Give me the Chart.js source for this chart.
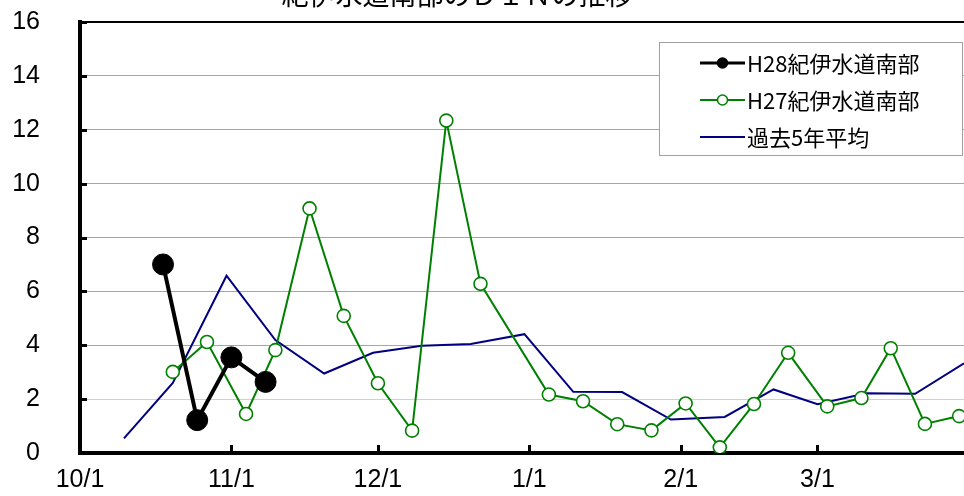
<!DOCTYPE html>
<html>
<head>
<meta charset="utf-8">
<script src="https://cdn.jsdelivr.net/npm/chart.js@4.4.1/dist/chart.umd.min.js"></script>
<style>
  html, body { margin: 0; padding: 0; background: #fff; overflow: hidden; }
  #wrap { width: 964px; height: 496px; }
</style>
</head>
<body>
<div id="wrap"><canvas id="c" width="964" height="496"></canvas></div>
<script>
// 軸の目盛り（各月1日）
var monthTickLabels = ['10/1', '11/1', '12/1', '1/1', '2/1', '3/1'];
var yTickLabels = ['0', '2', '4', '6', '8', '10', '12', '14', '16'];

// H28 紀伊水道南部
var h28Dates = ['10/18', '10/25', '11/1', '11/8'];
var h28Values = [7.0, 1.22, 3.55, 2.64];

// H27 紀伊水道南部
var h27Dates = ['10/20', '10/27', '11/4', '11/10', '11/17', '11/24', '12/1', '12/8', '12/15', '12/22',
  '1/5', '1/12', '1/19', '1/26', '2/2', '2/9', '2/16', '2/23', '3/3', '3/10', '3/16', '3/23', '3/30'];
var h27Values = [3.01, 4.12, 1.45, 3.82, 9.08, 5.09, 2.59, 0.83, 12.34, 6.28,
  2.17, 1.92, 1.07, 0.84, 1.84, 0.21, 1.82, 3.72, 1.73, 2.04, 3.89, 1.08, 1.37];

// 過去5年平均
var avgDates = ['10/10', '10/20', '10/31', '11/10', '11/20', '11/30', '12/10', '12/20', '12/31',
  '1/10', '1/20', '1/30', '2/10', '2/20', '3/1', '3/11', '3/21', '3/31'];
var avgValues = [0.54, 2.6, 6.58, 4.19, 2.95, 3.72, 3.98, 4.05, 4.41,
  2.27, 2.26, 1.24, 1.34, 2.36, 1.81, 2.22, 2.2, 3.33];

var seriesNames = ['H28紀伊水道南部', 'H27紀伊水道南部', '過去5年平均'];
var titleText = '紀伊水道南部のＤＩＮの推移';

// 10/1 からの日数に変換
var monthStart = { 10: 0, 11: 31, 12: 61, 1: 92, 2: 123, 3: 151 };
function dayOf(md) {
  var p = md.split('/');
  return monthStart[+p[0]] + (+p[1]) - 1;
}
function toPoints(dates, vals) {
  return dates.map(function (d, i) { return { x: dayOf(d), y: vals[i] }; });
}

var tickFont = { family: "'Liberation Sans Narrow', 'Liberation Sans', sans-serif", size: 25 };
var jpFont = "'Noto Sans CJK JP', sans-serif";

// 内向きの目盛り線
var innerTicks = {
  id: 'innerTicks',
  afterDatasetsDraw: function (chart) {
    var ctx = chart.ctx, a = chart.chartArea;
    var xs = chart.scales.x, ys = chart.scales.y;
    ctx.save();
    ctx.strokeStyle = '#000';
    ctx.lineWidth = 3;
    xs.ticks.forEach(function (t) {
      if (t.value === 0) return;
      var px = Math.round(xs.getPixelForValue(t.value)) + 0.5;
      ctx.beginPath(); ctx.moveTo(px, a.bottom); ctx.lineTo(px, a.bottom - 8); ctx.stroke();
    });
    ys.ticks.forEach(function (t) {
      if (t.value === 0) return;
      var py = Math.round(ys.getPixelForValue(t.value)) + 0.5;
      ctx.beginPath(); ctx.moveTo(a.left, py); ctx.lineTo(a.left + 7, py); ctx.stroke();
    });
    ctx.restore();
  }
};

// タイトル（上端で切れている）と凡例ボックス
var decor = {
  id: 'decor',
  afterDraw: function (chart) {
    var ctx = chart.ctx;
    ctx.save();
    ctx.fillStyle = '#000';
    ctx.font = '27px ' + jpFont;
    ctx.textAlign = 'center';
    ctx.textBaseline = 'alphabetic';
    ctx.fillText(titleText, 457, 5);

    // 凡例
    var bx = 659.5, by = 42.5, bw = 303, bh = 113;
    ctx.fillStyle = '#fff';
    ctx.fillRect(bx, by, bw, bh);
    ctx.strokeStyle = '#a0a0a0';
    ctx.lineWidth = 1;
    ctx.strokeRect(bx, by, bw, bh);
    var rows = [63, 100, 137];
    chart.data.datasets.forEach(function (ds, i) {
      var y = rows[i];
      ctx.strokeStyle = ds.borderColor;
      ctx.lineWidth = i === 0 ? 3 : 2;
      ctx.beginPath(); ctx.moveTo(700, y); ctx.lineTo(745, y); ctx.stroke();
      if (ds.pointRadius > 0) {
        ctx.beginPath();
        ctx.arc(722.5, y, 5, 0, Math.PI * 2);
        ctx.fillStyle = ds.pointBackgroundColor;
        ctx.fill();
        ctx.lineWidth = 1.5;
        ctx.stroke();
      }
      ctx.fillStyle = '#000';
      ctx.font = '22px ' + jpFont;
      ctx.textAlign = 'left';
      ctx.textBaseline = 'middle';
      ctx.fillText(ds.label, 747, y + 1);
    });
    ctx.restore();
  }
};

new Chart(document.getElementById('c'), {
  type: 'line',
  data: {
    datasets: [{
      label: seriesNames[0],
      data: toPoints(h28Dates, h28Values),
      borderColor: '#000',
      backgroundColor: '#000',
      pointBackgroundColor: '#000',
      pointBorderColor: '#000',
      borderWidth: 4,
      pointRadius: 10.5,
      pointBorderWidth: 1
    }, {
      label: seriesNames[1],
      data: toPoints(h27Dates, h27Values),
      borderColor: '#008000',
      backgroundColor: '#fff',
      pointBackgroundColor: '#fff',
      pointBorderColor: '#008000',
      borderWidth: 2,
      pointRadius: 6.5,
      pointBorderWidth: 1.6
    }, {
      label: seriesNames[2],
      data: toPoints(avgDates, avgValues),
      borderColor: '#000080',
      backgroundColor: '#000080',
      borderWidth: 2,
      pointRadius: 0
    }]
  },
  options: {
    responsive: false,
    animation: false,
    devicePixelRatio: 1,
    layout: { autoPadding: false, padding: { top: 22, right: 0, bottom: 0, left: 0 } },
    plugins: {
      legend: { display: false },
      title: { display: false },
      tooltip: { enabled: false }
    },
    scales: {
      x: {
        type: 'linear',
        min: 0,
        max: 181,
        afterBuildTicks: function (s) {
          s.ticks = monthTickLabels.map(function (l) { return { value: dayOf(l) }; });
        },
        afterFit: function (s) {
          s.height = 43;
          s.paddingLeft = 0; s.paddingRight = 0;
        },
        grid: { display: false },
        border: { display: true, color: '#000', width: 4 },
        ticks: {
          autoSkip: false,
          maxRotation: 0,
          padding: 4,
          color: '#000',
          font: tickFont,
          callback: function (v) { return monthTickLabels[monthTickLabels.map(dayOf).indexOf(v)]; }
        }
      },
      y: {
        min: 0,
        max: 16,
        afterFit: function (s) {
          s.width = 80;
          s.paddingTop = 0; s.paddingBottom = 0;
        },
        grid: {
          drawTicks: false,
          color: function (c) {
            if (c.tick.value === 16) return '#000';
            if (c.tick.value === 2) return '#d0d0d0';
            return '#a6a6a6';
          },
          lineWidth: function (c) { return c.tick.value === 16 ? 2 : 1; }
        },
        border: { display: true, color: '#000', width: 4 },
        ticks: {
          stepSize: 2,
          padding: 40,
          color: '#000',
          font: tickFont,
          callback: function (v) { return yTickLabels[v / 2]; }
        }
      }
    }
  },
  plugins: [innerTicks, decor]
});
</script>
</body>
</html>
